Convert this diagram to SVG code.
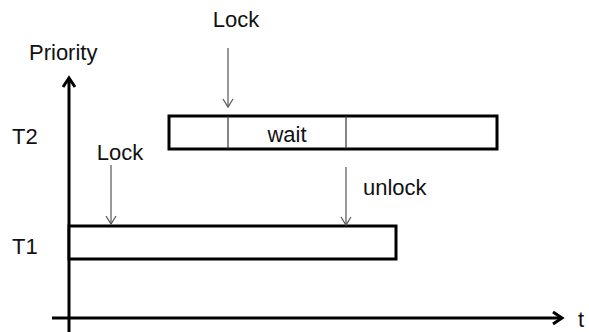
<svg xmlns="http://www.w3.org/2000/svg" width="589" height="332" viewBox="0 0 589 332">
<style>
text{font-family:"Liberation Sans",Arial,sans-serif;font-size:22px;fill:#111}
.box{fill:#fff;stroke:#000;stroke-width:3}
.div{stroke:#333;stroke-width:1.2}
.axis{stroke:#000;stroke-width:3;fill:none}
.thin{stroke:#555;stroke-width:1.2;fill:none}
</style>
<defs>
<marker id="ah" markerWidth="12" markerHeight="12" refX="10" refY="6" orient="auto" markerUnits="userSpaceOnUse">
<path d="M2,1 L10,6 L2,11" fill="none" stroke="#555" stroke-width="1.2"/>
</marker>
<marker id="axh" markerWidth="16" markerHeight="16" refX="13" refY="8" orient="auto" markerUnits="userSpaceOnUse">
<path d="M4,2 L13,8 L4,14" fill="none" stroke="#000" stroke-width="3"/>
</marker>
</defs>
<g id="axes">
<line class="axis" x1="69" y1="332" x2="69" y2="78" marker-end="url(#axh)"/>
<line class="axis" x1="52" y1="318" x2="562" y2="318" marker-end="url(#axh)"/>
<text x="29" y="60">Priority</text>
<text x="578" y="327">t</text>
<text x="12" y="144">T2</text>
<text x="12" y="254">T1</text>
</g>
<g id="T2">
<rect class="box" x="169" y="116" width="328" height="33"/>
<line class="div" x1="228" y1="116" x2="228" y2="149"/>
<line class="div" x1="346" y1="116" x2="346" y2="149"/>
<text x="287" y="142" text-anchor="middle">wait</text>
</g>
<g id="T1">
<rect class="box" x="69" y="226" width="327" height="33"/>
</g>
<g id="connectors">
<line class="thin" x1="228" y1="48" x2="228" y2="107" marker-end="url(#ah)"/>
<line class="thin" x1="111" y1="165" x2="111" y2="224" marker-end="url(#ah)"/>
<line class="thin" x1="346" y1="167" x2="346" y2="225" marker-end="url(#ah)"/>
</g>
<g id="labels">
<text x="236" y="27" text-anchor="middle">Lock</text>
<text x="120" y="160" text-anchor="middle">Lock</text>
<text x="363" y="195">unlock</text>
</g>
</svg>
